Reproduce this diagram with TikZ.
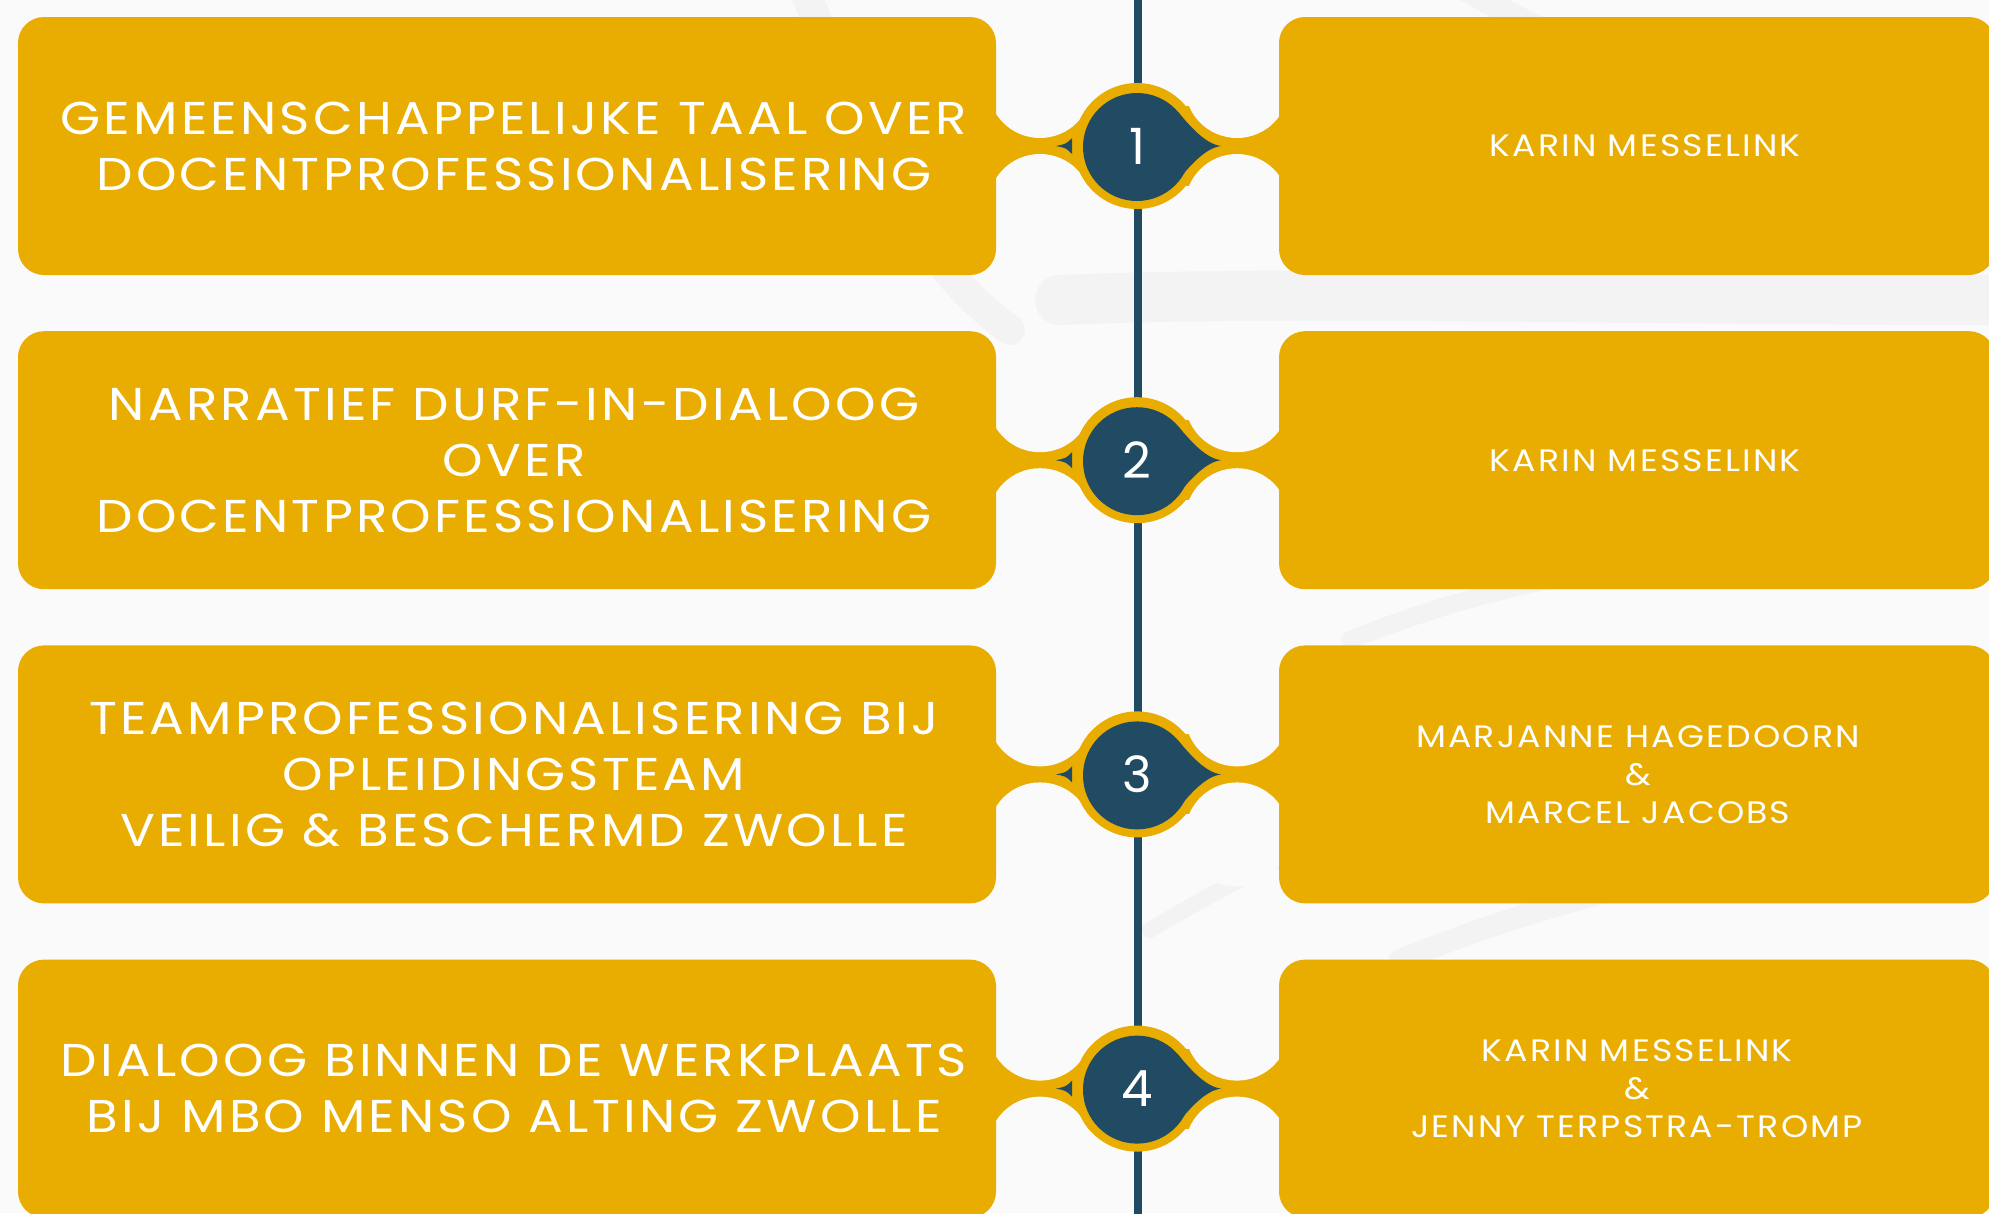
\documentclass[tikz,border=0pt]{standalone}
\usepackage{fontspec}
\setmainfont{Poppins}
\definecolor{gold}{RGB}{233,172,0}
\definecolor{navy}{RGB}{33,74,99}
\definecolor{bgc}{RGB}{250,250,250}
\definecolor{strand}{RGB}{200,200,200}
\begin{document}
\begin{tikzpicture}[x=1pt,y=-1pt,
  boxshape/.style={fill=gold, rounded corners=26pt},
  ltext/.style={text=white, align=center, inner sep=0pt, font=\fontsize{46}{56}\selectfont\addfontfeature{FakeStretch=1.12,LetterSpace=7}},
  rtext/.style={text=white, align=center, inner sep=0pt, font=\fontsize{31}{38}\selectfont\addfontfeature{FakeStretch=1.12,LetterSpace=7}},
  numtext/.style={text=white, inner sep=0pt, font=\fontsize{50}{60}\selectfont},
  strandline/.style={draw=strand, line cap=round, opacity=0.13}]
\useasboundingbox (0,0) rectangle (1989,1213);
\clip (0,0) rectangle (1989,1213);
\fill[bgc] (0,0) rectangle (1989,1213);
% faint background strands
\draw[strandline, line width=30pt] (800,-20) .. controls (860,120) and (900,250) .. (1010,330);
\draw[strandline, line width=50pt] (1060,300) .. controls (1300,290) and (1600,300) .. (2000,300);
\draw[strandline, line width=24pt] (1450,-20) .. controls (1550,40) and (1650,80) .. (1760,130);
\draw[strandline, line width=18pt] (1350,640) .. controls (1450,600) and (1560,570) .. (1700,560);
\draw[strandline, line width=22pt] (1400,960) .. controls (1550,900) and (1700,860) .. (2000,820);
\draw[strandline, line width=16pt] (1150,930) .. controls (1250,870) and (1350,820) .. (1500,780);
% timeline
\draw[navy, line width=8pt] (1138,-10) -- (1138,1223);
\foreach \i/\c in {1/146,2/460.2,3/774.4,4/1088.6}{
  \fill[gold] (990,\c-40) rectangle (1285,\c+40);
  \fill[bgc] (1040,\c-60) circle[radius=52pt];
  \fill[bgc] (1040,\c+60) circle[radius=52pt];
  \fill[bgc] (1237,\c-60) circle[radius=52pt];
  \fill[bgc] (1237,\c+60) circle[radius=52pt];
  \fill[boxshape] (18,\c-129) rectangle (996,\c+129);
  \fill[boxshape] (1279,\c-129) rectangle (1995,\c+129);
  \fill[gold] (1137,\c) circle[radius=63pt];
  \fill[navy] (1137,\c+1) circle[radius=54pt];
  \fill[navy] (1178,\c-34) .. controls (1190,\c-20) and (1205,\c-2) .. (1221,\c)
              .. controls (1205,\c+2) and (1190,\c+20) .. (1178,\c+34) -- cycle;
  \fill[navy] (1072,\c-8) .. controls (1066,\c-2) .. (1056,\c)
              .. controls (1066,\c+2) .. (1072,\c+8) -- cycle;
  \node[numtext] (N\i) at (1137,\c) {\i};
}
\node[ltext] (L1) at (514,146) {GEMEENSCHAPPELIJKE TAAL OVER\\DOCENTPROFESSIONALISERING};
\node[ltext] (L2) at (514,460.2) {NARRATIEF DURF-IN-DIALOOG\\OVER\\DOCENTPROFESSIONALISERING};
\node[ltext] (L3) at (514,774.4) {TEAMPROFESSIONALISERING BIJ\\OPLEIDINGSTEAM\\VEILIG \& BESCHERMD ZWOLLE};
\node[ltext] (L4) at (514,1088.6) {DIALOOG BINNEN DE WERKPLAATS\\BIJ MBO MENSO ALTING ZWOLLE};
\node[rtext] (R1) at (1645,146) {KARIN MESSELINK};
\node[rtext] (R2) at (1645,460.2) {KARIN MESSELINK};
\node[rtext] (R3) at (1638,774.4) {MARJANNE HAGEDOORN\\\&\\MARCEL JACOBS};
\node[rtext] (R4) at (1637,1088.6) {KARIN MESSELINK\\\&\\JENNY TERPSTRA-TROMP};
\end{tikzpicture}
\end{document}
